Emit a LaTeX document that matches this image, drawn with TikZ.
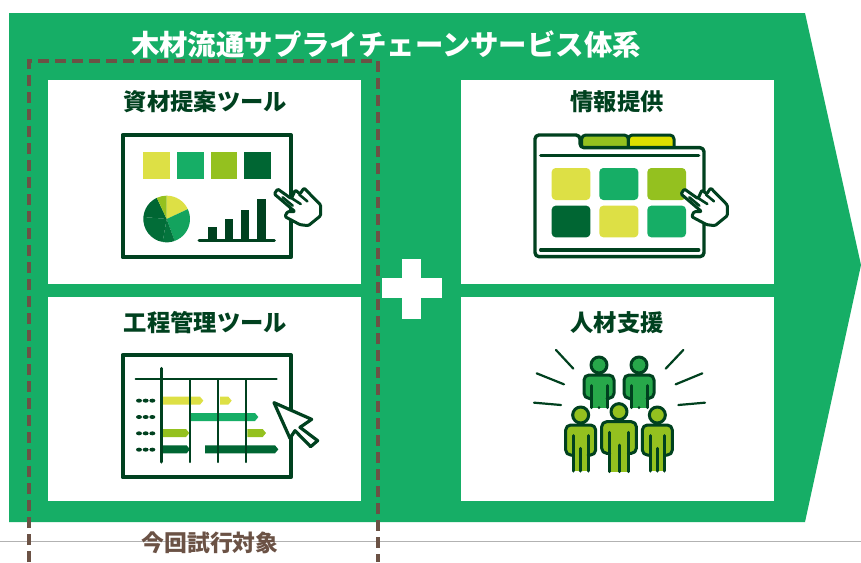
\documentclass[tikz,border=0pt]{standalone}
\usepackage{fontspec}
\newfontfamily\jp{Noto Sans CJK JP}
\definecolor{mainG}{HTML}{16AE66}
\definecolor{inkG}{HTML}{00411F}
\definecolor{yelG}{HTML}{DDE045}
\definecolor{midG}{HTML}{94C11F}
\definecolor{darkG}{HTML}{006633}
\definecolor{tabY}{HTML}{DDE000}
\definecolor{pplG}{HTML}{27A84A}
\definecolor{brownT}{HTML}{6B5245}
\tikzset{
  panel/.style={fill=white},
  paneltitle/.style={font=\jp\bfseries\fontsize{23.3}{26}\selectfont,text=inkG,inner sep=0pt},
  frameline/.style={draw=inkG,line width=4.2pt,line join=round},
  inkline/.style={draw=inkG,line width=3pt,line cap=round,line join=round},
  thinline/.style={draw=inkG,line width=2.2pt,line cap=round},
  iconscope/.style={scale=1/3},
}
\newcommand{\handicon}{%
  \draw[inkline,fill=white,rounded corners=1.2pt] (523,222)--(533,207)--(574,236)--(586,210)--(600,222)--(612,204)--(662,255)--(662,287)--(625,317)--(600,314)--(555,290)--(562,275)--(585,275)--cycle;
  \draw[draw=inkG,line width=2.6pt,line cap=round] (548,232)--(578,257) (574,234)--(602,252) (598,224)--(622,244);
}
\newcommand{\pieslice}[3]{\fill[#3] (200,297) -- ++(#1:70) arc[start angle=#1,end angle=#2,radius=70] -- cycle;}
\newcommand{\ganttbar}[4]{\fill[#4] (#1,#3-12) -- (#2-10,#3-12) -- (#2,#3) -- (#2-10,#3+12) -- (#1,#3+12) -- cycle;}
\newcommand{\person}[8]{%
  % cx cy colour innerx outerx armbottom bottom centretop
  \begin{scope}[shift={(#1,#2)}]
    \fill[#3,rounded corners=5pt] (-#4,#7) -- (-#4,#6) -- (-#5,#6) -- (-#5,30) -- (#5,30) -- (#5,#6) -- (#4,#6) -- (#4,#7) -- cycle;
    \fill[#3] (-#4,60) rectangle (#4,#7);
    \draw[inkline,rounded corners=5pt] (-#4,#6) -- (-#5,#6) -- (-#5,30) -- (#5,30) -- (#5,#6) -- (#4,#6);
    \draw[inkline] (-#4,62) -- (-#4,#7) (#4,62) -- (#4,#7);
    \draw[inkline] (0,#8) -- (0,#7);
    \draw[inkline,fill=#3] (0,0) circle (24);
  \end{scope}
}
\begin{document}
\begin{tikzpicture}[x=1pt,y=-1pt]
\useasboundingbox (0,0) rectangle (861,562);
\fill[white] (0,0) rectangle (861,562);
\draw[draw=black!30,line width=1pt] (0,541) -- (861,541);
\fill[mainG] (9,13) -- (805,13) -- (861,265) -- (805,522) -- (9,522) -- cycle;
\fill[panel] (48,80) rectangle (361,284);
\fill[panel] (48,297) rectangle (361,501);
\fill[panel] (461,80) rectangle (774,284);
\fill[panel] (461,297) rectangle (774,501);
\fill[white] (402,259) rectangle (421,319);
\fill[white] (382,278) rectangle (442,298);
\node[font=\jp\bfseries\fontsize{28.4}{32}\selectfont,text=white,inner sep=0pt] (title) at (386,44) {木材流通サプライチェーンサービス体系};
\node[paneltitle] (t1) at (205.5,102) {資材提案ツール};
\node[paneltitle] (t2) at (205.5,323) {工程管理ツール};
\node[paneltitle] (t3) at (617,102) {情報提供};
\node[paneltitle] (t4) at (617,323) {人材支援};
\node[font=\jp\bfseries\fontsize{22.8}{26}\selectfont,text=brownT,inner sep=0pt] (scope label) at (210,543) {今回試行対象};
\draw[draw=brownT,line width=3.5pt,dash pattern=on 11pt off 6pt] (29,562) -- (29,61) -- (378,61) -- (378,562);
% icon 1
\begin{scope}[shift={(100,120)},iconscope]
  \draw[frameline] (68,45) rectangle (572,412);
  \fill[yelG] (130,97) rectangle (211,176);
  \fill[mainG] (232,97) rectangle (311,176);
  \fill[midG] (332,97) rectangle (411,176);
  \fill[darkG] (432,97) rectangle (513,176);
  \pieslice{-90}{-25}{yelG}
  \pieslice{-25}{70}{mainG!85!darkG}
  \pieslice{70}{100}{darkG!80!mainG}
  \pieslice{100}{185}{darkG!90!mainG}
  \pieslice{185}{245}{darkG}
  \pieslice{245}{270}{midG}
  \fill[inkG] (325,322) rectangle (352,362);
  \fill[inkG] (375,296) rectangle (400,362);
  \fill[inkG] (422,270) rectangle (448,362);
  \fill[inkG] (472,238) rectangle (497,362);
  \draw[inkline] (297,362) -- (523,362);
  \handicon
\end{scope}
% icon 2
\begin{scope}[shift={(100,340)},iconscope]
  \draw[frameline] (68,45) rectangle (572,412);
  \ganttbar{188}{310}{182}{yelG}
  \ganttbar{360}{395}{182}{yelG}
  \ganttbar{273}{475}{231}{mainG}
  \ganttbar{188}{268}{279}{midG}
  \ganttbar{442}{498}{279}{midG}
  \ganttbar{188}{270}{328}{darkG}
  \ganttbar{315}{535}{328}{darkG}
  \draw[thinline] (107,118) -- (530,118);
  \draw[inkline] (184,85) -- (184,366);
  \draw[thinline] (270,118) -- (270,366) (355,118) -- (355,366) (439,118) -- (439,366);
  \foreach \yy in {182,231,280,329} {
    \foreach \xx in {117,137,157} { \fill[inkG] (\xx,\yy) ellipse (9 and 6); }
  }
  \draw[inkline,line width=3.2pt,fill=white] (522,188) -- (635,238) -- (600,262) -- (653,302) -- (632,320) -- (585,272) -- (570,295) -- cycle;
\end{scope}
% icon 3
\begin{scope}[shift={(520,120)},iconscope]
  \draw[inkline,fill=midG,rounded corners=4pt] (185,83) -- (185,45) -- (325,45) -- (325,83);
  \draw[inkline,fill=tabY,rounded corners=4pt] (325,83) -- (325,45) -- (462,45) -- (462,83);
  \draw[inkline,line width=3.4pt,fill=white,rounded corners=4pt] (45,410) -- (45,45) -- (180,45) -- (180,83) -- (552,83) -- (552,410) -- cycle;
  \draw[inkline,line width=3.4pt] (62,107) -- (536,107) (62,390) -- (536,390);
  \fill[yelG,rounded corners=4pt] (95,144) rectangle (211,240);
  \fill[mainG,rounded corners=4pt] (238,144) rectangle (355,240);
  \fill[midG,rounded corners=4pt] (382,144) rectangle (498,240);
  \fill[darkG,rounded corners=4pt] (95,257) rectangle (211,352);
  \fill[yelG,rounded corners=4pt] (238,257) rectangle (355,352);
  \fill[mainG,rounded corners=4pt] (382,257) rectangle (498,352);
  \begin{scope}[shift={(-40,0)}]
    \handicon
  \end{scope}
\end{scope}
% icon 4
\begin{scope}[shift={(520,340)},iconscope]
  \draw[thinline] (108,30) -- (160,86) (50,100) -- (132,133) (42,188) -- (123,195)
    (490,30) -- (437,86) (547,100) -- (467,133) (555,188) -- (475,195);
  \person{237}{75}{pplG}{24}{45}{100}{128}{128}
  \person{357}{75}{pplG}{24}{45}{100}{128}{128}
  \person{182}{225}{midG}{22}{45}{120}{168}{100}
  \person{412}{225}{midG}{22}{45}{120}{168}{100}
  \person{297}{215}{midG}{28}{52}{125}{180}{100}
\end{scope}
\end{tikzpicture}
\end{document}
